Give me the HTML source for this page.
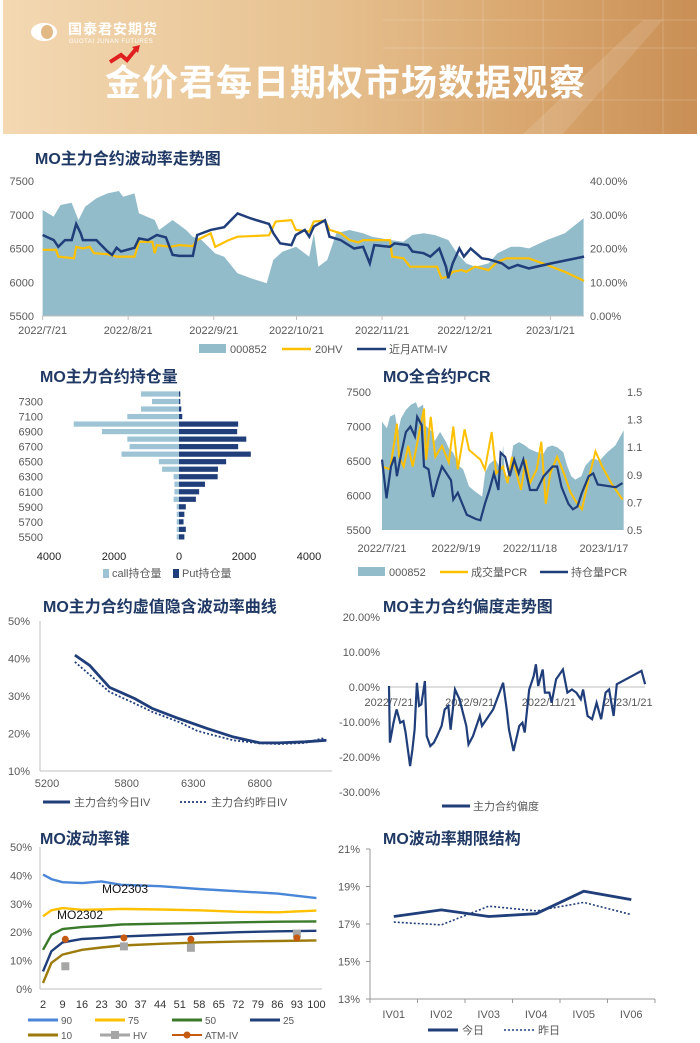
<!DOCTYPE html>
<html><head><meta charset="utf-8">
<style>
html,body{margin:0;padding:0;background:#fff;width:700px;height:1043px;overflow:hidden;font-family:"Liberation Sans","Noto Sans CJK SC",sans-serif;}
#banner{position:absolute;left:3px;top:0;width:694px;height:134px;background:linear-gradient(90deg,#f3d8b2 0%,#e7c291 45%,#d9a76f 75%,#c98f55 100%);overflow:hidden;}
#charts{position:absolute;left:0;top:0;}
</style></head>
<body>
<div id="banner">
  <svg width="694" height="134" style="position:absolute;left:0;top:0">
    <g stroke="#ffffff" stroke-opacity="0.18" stroke-width="1">
      <line x1="420" y1="0" x2="420" y2="134"/><line x1="480" y1="0" x2="480" y2="134"/><line x1="540" y1="0" x2="540" y2="134"/><line x1="600" y1="0" x2="600" y2="134"/><line x1="660" y1="0" x2="660" y2="134"/>
      <line x1="380" y1="20" x2="694" y2="20"/><line x1="380" y1="48" x2="694" y2="48"/><line x1="380" y1="100" x2="694" y2="100"/>
    </g>
    <polygon points="520,134 640,20 660,20 560,134" fill="#ffffff" fill-opacity="0.12"/>
    <ellipse cx="41" cy="32" rx="13" ry="9" fill="#fff"/>
    <ellipse cx="44" cy="32" rx="6" ry="7" fill="#e2b985"/>
    <path d="M107 62 L118 55 L124 60 L133 49" stroke="#e02020" stroke-width="4" fill="none"/>
    <polygon points="129,47 137,45 135,53" fill="#e02020"/>
  </svg>
  <div style="position:absolute;left:65px;top:21px;color:#fff;font-size:14px;font-weight:bold;letter-spacing:1px;line-height:16px">国泰君安期货</div>
  <div style="position:absolute;left:66px;top:39px;color:#fff;font-size:6px;letter-spacing:0.5px;line-height:7px">GUOTAI JUNAN FUTURES</div>
  <div style="position:absolute;left:102px;top:58px;color:#fff;font-size:36px;font-weight:bold;letter-spacing:1px;font-family:'Noto Sans CJK SC',sans-serif;line-height:44px">金价君每日期权市场数据观察</div>
</div>
<svg id="charts" width="700" height="1043" xmlns="http://www.w3.org/2000/svg"></svg>
<script>
// ---------- Chart 1 data ----------
const c1Ticks=['7500','7000','6500','6000','5500'];
const c1TickVals=[7500,7000,6500,6000,5500];
const c1RTicks=['40.00%','30.00%','20.00%','10.00%','0.00%'];
const c1RVals=[40,30,20,10,0];
const c1DateLabels=['2022/7/21','2022/8/21','2022/9/21','2022/10/21','2022/11/21','2022/12/21','2023/1/21'];
const c1DateDays=[0,31,62,92,123,153,184];
const idxDays=[0,4,6.5,10.5,13,15.4,19.5,23.5,27.6,29.2,33.3,34.9,40.6,42.2,47.1,52,54.4,57.6,62.5,65.8,70.6,75.5,81.2,83.6,86.9,91.8,96.6,98.3,99.9,103.1,106.4,111.2,116.1,119.4,122.6,125.9,130.7,134,138,142.1,147,150.2,153.5,156.7,161.6,164.8,169.7,173,176.2,182.7,189.2,196];
const idxVals=[7070,6972,7144,7179,6922,7120,7243,7317,7352,7268,7317,7021,6922,6774,6922,6774,6675,6626,6428,6379,6132,6058,5984,6330,6453,6527,6379,6725,6231,6330,6725,6774,6725,6675,6651,6626,6601,6700,6725,6700,6626,6428,6280,6231,6280,6428,6527,6527,6502,6626,6725,6947];
const hvX=[95,125,130,165,170,185,200,210,240,260,300,310,340,345,350,380,400,430,440,470,480,510,530,600,615,650,660,690,700,725,735,760,780,800,810,870,875,900,915,975,985,1000,1010,1030,1040,1060,1090,1110,1130,1180,1220,1260,1303];
const hvVals=[19.6,19.6,17.6,17.1,20.5,20.0,20.5,18.6,18.3,17.6,17.6,22.0,22.0,18.6,21.0,20.5,21.0,20.7,22.5,24.5,20.5,22.5,23.5,23.9,28.0,28.4,25.5,25.0,28.0,28.3,25.5,24.5,22.5,21.8,22.5,22.5,17.6,17.1,14.6,14.6,11.2,11.7,13.1,13.6,13.1,14.6,13.6,16.1,17.1,17.1,15.1,13.1,10.4];
const ivX=[95,120,130,145,160,170,180,185,215,240,250,260,270,300,310,330,350,370,385,400,430,440,470,500,515,530,560,600,610,625,650,660,680,690,700,725,735,760,790,810,825,835,870,880,910,920,945,960,980,995,1000,1010,1025,1035,1050,1075,1090,1120,1135,1155,1180,1230,1303];
const ivVals=[24.0,22.5,20.5,22.5,22.5,27.3,24.5,22.5,22.5,19.1,18.1,20.2,19.1,20.2,23.0,22.5,24.0,23.3,18.1,17.8,17.8,24.0,25.5,26.3,28.4,30.4,28.9,27.3,24.5,21.5,21.0,24.0,25.5,23.5,26.5,28.4,23.5,22.5,20.0,20.5,15.6,21.0,20.5,21.5,21.0,19.1,18.6,17.6,20.0,14.6,11.2,15.6,20.0,17.6,20.0,17.1,16.8,15.6,14.1,15.1,14.1,15.6,17.6];
// ---------- Chart 2 data ----------
const strikes=[7400,7300,7200,7100,7000,6900,6800,6700,6600,6500,6400,6300,6200,6100,6000,5900,5800,5700,5600,5500];
const callOI=[1170,830,1170,1590,3240,2370,1590,1520,1770,620,520,165,140,140,165,70,70,70,70,70];
const putOI=[40,40,70,100,1820,1790,2070,1820,2210,1450,1200,1190,800,620,520,210,165,140,210,165];
const c2StrikeLabels=['7300','7100','6900','6700','6500','6300','6100','5900','5700','5500'];
const c2XVals=[-4000,-2000,0,2000,4000];
const c2XLabels=['4000','2000','0','2000','4000'];
// ---------- Chart 3 data ----------
const c3LTicks=['7500','7000','6500','6000','5500'];
const c3RTicks=['1.5','1.3','1.1','0.9','0.7','0.5'];
const c3RVals=[1.5,1.3,1.1,0.9,0.7,0.5];
const c3DateLabels=['2022/7/21','2022/9/19','2022/11/18','2023/1/17'];
const c3DateDays=[0,60,120,180];
const oiPcrX=[852,862,872,880,885,895,905,915,925,930,940,945,955,965,975,985,995,1005,1010,1020,1030,1040,1060,1070,1080,1090,1100,1110,1115,1125,1135,1145,1155,1165,1180,1195,1210,1230,1240,1250,1265,1275,1285,1295,1310,1320,1330,1370,1385];
const oiPcr=[1.01,0.73,0.96,1.03,0.89,1.06,1.21,1.25,1.18,1.32,1.26,0.96,0.94,0.74,0.86,0.96,0.91,0.86,0.72,0.77,0.69,0.61,0.58,0.57,0.69,0.79,0.91,0.79,1.06,1.03,0.89,1.01,0.91,1.01,0.79,0.79,0.89,0.96,0.96,0.81,0.69,0.65,0.67,0.77,0.89,0.91,0.83,0.81,0.84];
const volPcrX=[852,870,880,885,890,900,910,920,930,945,950,960,970,985,1000,1010,1020,1035,1045,1070,1080,1095,1105,1120,1130,1140,1160,1170,1180,1195,1205,1215,1225,1240,1255,1270,1285,1295,1310,1325,1340,1360,1385];
const volPcr=[0.96,0.94,1.15,1.27,1.03,0.96,1.11,0.96,1.13,1.38,1.01,1.32,1.03,1.11,0.99,1.25,0.94,1.23,1.08,1.01,0.94,1.21,0.91,0.96,0.84,1.03,0.79,1.01,0.84,0.94,1.14,0.69,0.91,1.03,0.91,0.77,0.69,0.65,0.87,1.07,0.96,0.84,0.72];
// ---------- Chart 4 data ----------
const ivStrikeToday=[5410,5520,5670,5860,5990,6190,6400,6600,6800,6940,7140,7300];
const ivToday=[40.9,38.2,32.3,29.3,26.7,24.0,21.4,19.1,17.5,17.5,17.8,18.2];
const ivStrikeYest=[5410,5670,5860,5990,6190,6330,6600,6800,6940,7140,7270,7300];
const ivYest=[39.1,31.1,28.0,25.8,23.1,20.7,18.2,17.4,17.2,17.5,18.7,18.1];
const c4YLabels=['50%','40%','30%','20%','10%'];
const c4YVals=[50,40,30,20,10];
const c4XLabels=['5200','5800','6300','6800'];
const c4XVals=[5200,5800,6300,6800];
// ---------- Chart 5 data ----------
const skewX=[868,870,878,885,893,900,905,915,920,925,930,935,940,948,952,960,968,975,985,992,1000,1005,1015,1025,1040,1045,1055,1070,1075,1100,1122,1130,1135,1145,1158,1165,1170,1180,1190,1195,1200,1210,1215,1225,1230,1240,1255,1265,1275,1285,1295,1300,1310,1320,1330,1340,1350,1358,1368,1375,1430,1438];
const skewVals=[0.3,-15.9,-10.2,-6.4,-10.2,-9.7,-13.0,-22.6,-17.9,-12.2,1.2,-5.4,-5.0,1.7,-14.0,-16.9,-15.9,-14.0,-11.1,-6.4,-5.4,-12.2,-0.7,-3.5,-11.1,-16.4,-14.0,-8.3,-11.1,-6.4,1.2,-6.4,-12.2,-18.3,-11.1,-10.2,-13.0,-0.7,3.1,6.5,0.3,5.0,-1.6,-1.6,-4.5,2.2,5.0,-1.6,-0.7,-1.6,-3.5,-0.7,-8.3,-9.2,-4.5,-9.2,-1.6,-0.7,-8.3,0.8,4.6,0.8];
const c5YLabels=['20.00%','10.00%','0.00%','-10.00%','-20.00%','-30.00%'];
const c5YVals=[20,10,0,-10,-20,-30];
const c5DateLabels=['2022/7/21','2022/9/21','2022/11/21','2023/1/21'];
const c5DateDays=[0,62,123,184];
// ---------- Chart 6 data ----------
const coneDays=[2,5,9,16,23,30,44,58,72,86,100];
const cone90=[40.3,38.7,37.6,37.3,37.9,36.7,36.2,35.2,34.4,33.6,32.0];
const cone75=[25.6,27.7,28.5,27.9,28.0,28.2,28.0,27.7,27.2,27.0,27.6];
const cone50=[13.8,19.1,21.1,21.8,22.2,22.7,23.0,23.2,23.5,23.7,23.8];
const cone25=[6.2,13.3,16.4,17.6,18.0,18.5,19.0,19.5,20.0,20.3,20.5];
const cone10=[2.1,9.2,12.1,13.8,14.6,15.3,15.9,16.4,16.7,16.9,17.1];
const hvPtDays=[10,31,55,93];
const hvPts=[8.0,15.0,14.5,19.5];
const atmPtDays=[10,31,55,93];
const atmPts=[17.5,18.0,17.5,18.0];
const c6YLabels=['50%','40%','30%','20%','10%','0%'];
const c6YVals=[50,40,30,20,10,0];
const c6XLabels=['2','9','16','23','30','37','44','51','58','65','72','79','86','93','100'];
const c6XVals=[2,9,16,23,30,37,44,51,58,65,72,79,86,93,100];
// ---------- Chart 7 data ----------
const termCats=['IV01','IV02','IV03','IV04','IV05','IV06'];
const termToday=[17.4,17.75,17.4,17.55,18.75,18.3];
const termYest=[17.1,16.95,17.95,17.7,18.15,17.5];
const c7YLabels=['21%','19%','17%','15%','13%'];
const c7YVals=[21,19,17,15,13];

const NS='http://www.w3.org/2000/svg';
const svg=document.getElementById('charts');
const NAVY='#203e7a', YEL='#ffc000', AREA='#93bccb', GREY='#595959';
function mk(tag,attrs,parent){const e=document.createElementNS(NS,tag);for(const k in attrs)e.setAttribute(k,attrs[k]);(parent||svg).appendChild(e);return e;}
function text(x,y,s,size,anchor,color,weight){const t=mk('text',{x:x,y:y,'font-size':size,'text-anchor':anchor||'start',fill:color||GREY,'font-weight':weight||'normal','font-family':'"Liberation Sans","Noto Sans CJK SC",sans-serif'});t.textContent=s;return t;}
function pathD(xs,ys){return xs.map((x,i)=>(i?'L':'M')+x.toFixed(1)+' '+ys[i].toFixed(1)).join(' ');}
function title(x,y,s,name){const t=text(x,y,s,16,'start','#1f3864','bold');}

// ===== Chart 1 =====
title(35,164,'MO主力合约波动率走势图','vol-trend-title');
const x1=d=>42.6+d*2.76, yL1=v=>181+(7500-v)/2000*135, yR1=p=>316-p/40*135;
const zx2d1=z=>(z-95)*0.1624;
{
 const xs=idxDays.map(x1), ys=idxVals.map(yL1);
 const a=mk('path',{d:'M'+xs[0]+' 316 '+pathD(xs,ys).replace('M','L')+' L'+xs[xs.length-1]+' 316 Z',fill:AREA});
 
 const hv=mk('path',{d:pathD(hvX.map(z=>x1(zx2d1(z))),hvVals.map(yR1)),fill:'none',stroke:YEL,'stroke-width':2.2});
 
 const iv=mk('path',{d:pathD(ivX.map(z=>x1(zx2d1(z))),ivVals.map(yR1)),fill:'none',stroke:NAVY,'stroke-width':2.5});
 
 const ax=mk('line',{x1:42,y1:316,x2:584,y2:316,stroke:'#bfbfbf'});
 c1TickVals.forEach((v,i)=>{const t=text(34,yL1(v)+4,c1Ticks[i],11,'end');});
 c1RVals.forEach((v,i)=>{const t=text(590,yR1(v)+4,c1RTicks[i],11,'start');});
 c1DateDays.forEach((d,i)=>{mk('line',{x1:x1(d),y1:316,x2:x1(d),y2:320,stroke:'#bfbfbf'});const t=text(x1(d),334,c1DateLabels[i],11,'middle');});
 const lg=mk('g',{});
 mk('rect',{x:199,y:344,width:27,height:9,fill:AREA},lg);text(230,353,'000852',11,'start',GREY);
 mk('line',{x1:282,y1:349,x2:311,y2:349,stroke:YEL,'stroke-width':2.5},lg);text(315,353,'20HV',11,'start',GREY);
 mk('line',{x1:357,y1:349,x2:386,y2:349,stroke:NAVY,'stroke-width':2.5},lg);text(389,353,'近月ATM-IV',11,'start',GREY);
}
// ===== Chart 2 =====
title(40,382,'MO主力合约持仓量','open-interest-title');
{
 const x0=179,k=130/4000,yr=i=>394+i*7.52;
 strikes.forEach((s,i)=>{
  const c=mk('rect',{x:x0-callOI[i]*k,y:yr(i)-2.6,width:callOI[i]*k,height:5.2,fill:'#9dc3d5'});
  
  const p=mk('rect',{x:x0,y:yr(i)-2.6,width:putOI[i]*k,height:5.2,fill:NAVY});
  
 });
 c2StrikeLabels.forEach(l=>{const i=strikes.indexOf(+l);const t=text(43,yr(i)+4,l,11,'end');});
 c2XVals.forEach((v,i)=>{const t=text(x0+v*k,560,c2XLabels[i],11,'middle','#222');});
 mk('rect',{x:103,y:569,width:6,height:9,fill:'#9dc3d5'});text(112,577,'call持仓量',11,'start',GREY);
 mk('rect',{x:173,y:569,width:6,height:9,fill:NAVY});text(182,577,'Put持仓量',11,'start',GREY);
}
// ===== Chart 3 =====
title(383,382,'MO全合约PCR','pcr-title');
{
 const x3=d=>382+d*1.233, yL3=v=>392+(7500-v)/2000*138, yR3=p=>392+(1.5-p)*138, zd=z=>(z-852)*0.366;
 const xs=idxDays.map(x3), ys=idxVals.map(yL3);
 const a=mk('path',{d:'M'+xs[0]+' 530 '+pathD(xs,ys).replace('M','L')+' L'+xs[xs.length-1]+' 530 Z',fill:AREA});
 
 const v=mk('path',{d:pathD(volPcrX.map(z=>x3(zd(z))),volPcr.map(yR3)),fill:'none',stroke:YEL,'stroke-width':2});
 
 const o=mk('path',{d:pathD(oiPcrX.map(z=>x3(zd(z))),oiPcr.map(yR3)),fill:'none',stroke:NAVY,'stroke-width':2.2});
 
 c1TickVals.forEach((vv,i)=>{const t=text(371,yL3(vv)+4,c3LTicks[i],11,'end');});
 c3RVals.forEach((vv,i)=>{const t=text(627,yR3(vv)+4,c3RTicks[i],11,'start');});
 c3DateDays.forEach((d,i)=>{const t=text(x3(d),552,c3DateLabels[i],11,'middle');});
 mk('rect',{x:358,y:567,width:27,height:9,fill:AREA});text(389,576,'000852',11,'start',GREY);
 mk('line',{x1:440,y1:572,x2:468,y2:572,stroke:YEL,'stroke-width':2.5});text(471,576,'成交量PCR',11,'start',GREY);
 mk('line',{x1:540,y1:572,x2:568,y2:572,stroke:NAVY,'stroke-width':2.5});text(571,576,'持仓量PCR',11,'start',GREY);
}
// ===== Chart 4 =====
title(43,612,'MO主力合约虚值隐含波动率曲线','iv-smile-title');
{
 const x4=s=>47+(s-5200)*0.133, y4=p=>621+(50-p)/40*150;
 mk('line',{x1:40,y1:621,x2:40,y2:771,stroke:'#bfbfbf'});
 mk('line',{x1:40,y1:771,x2:332,y2:771,stroke:'#bfbfbf'});
 c4YVals.forEach((v,i)=>{const t=text(30,y4(v)+4,c4YLabels[i],11,'end');});
 c4XVals.forEach((v,i)=>{const t=text(x4(v),787,c4XLabels[i],11,'middle');});
 const y=mk('path',{d:pathD(ivStrikeYest.map(x4),ivYest.map(y4)),fill:'none',stroke:NAVY,'stroke-width':1.8,'stroke-dasharray':'2 2'});
 
 const t=mk('path',{d:pathD(ivStrikeToday.map(x4),ivToday.map(y4)),fill:'none',stroke:NAVY,'stroke-width':2.8});
 
 mk('line',{x1:43,y1:802,x2:70,y2:802,stroke:NAVY,'stroke-width':3});text(74,806,'主力合约今日IV',11,'start',GREY);
 mk('line',{x1:180,y1:802,x2:207,y2:802,stroke:NAVY,'stroke-width':1.8,'stroke-dasharray':'2 2'});text(211,806,'主力合约昨日IV',11,'start',GREY);
}
// ===== Chart 5 =====
title(383,612,'MO主力合约偏度走势图','skew-title');
{
 const x5=d=>389+d*1.3, y5=p=>687-p*3.5, zd=z=>(z-868)*0.3456;
 mk('line',{x1:389,y1:687,x2:645,y2:687,stroke:'#bfbfbf'});
 c5YVals.forEach((v,i)=>{const t=text(380,y5(v)+4,c5YLabels[i],11,'end');});
 c5DateDays.forEach((d,i)=>{const t=text(x5(d),706,c5DateLabels[i],11,'middle');});
 const s=mk('path',{d:pathD(skewX.map(z=>x5(zd(z))),skewVals.map(y5)),fill:'none',stroke:NAVY,'stroke-width':2.2});
 
 mk('line',{x1:442,y1:806,x2:470,y2:806,stroke:NAVY,'stroke-width':3});text(473,810,'主力合约偏度',11,'start',GREY);
}
// ===== Chart 6 =====
title(40,844,'MO波动率锥','vol-cone-title');
{
 const x6=d=>43+(d-2)*2.79, y6=p=>989-p*2.84;
 mk('line',{x1:40,y1:847,x2:40,y2:989,stroke:'#bfbfbf'});
 mk('line',{x1:40,y1:989,x2:322,y2:989,stroke:'#bfbfbf'});
 c6YVals.forEach((v,i)=>{const t=text(32,y6(v)+4,c6YLabels[i],11,'end');});
 c6XVals.forEach((v,i)=>{const t=text(x6(v),1008,c6XLabels[i],11,'middle','#333');});
 const series=[[cone90,'#4a86d8','cone-90'],[cone75,YEL,'cone-75'],[cone50,'#3a7a2a','cone-50'],[cone25,NAVY,'cone-25'],[cone10,'#9c7a0c','cone-10']];
 series.forEach(s=>{const p=mk('path',{d:pathD(coneDays.map(x6),s[0].map(y6)),fill:'none',stroke:s[1],'stroke-width':2.4});});
 hvPtDays.forEach((d,i)=>{const r=mk('rect',{x:x6(d)-4,y:y6(hvPts[i])-4,width:8,height:8,fill:'#a6a6a6'});});
 atmPtDays.forEach((d,i)=>{const c=mk('circle',{cx:x6(d),cy:y6(atmPts[i]),r:3.5,fill:'#c55a11'});});
 text(102,893,'MO2303',12,'start','#111');
 text(57,919,'MO2302',12,'start','#111');
 const lg=[[28,1020,'#4a86d8','90'],[95,1020,YEL,'75'],[172,1020,'#3a7a2a','50'],[250,1020,NAVY,'25'],[28,1035,'#9c7a0c','10']];
 lg.forEach(l=>{mk('line',{x1:l[0],y1:l[1],x2:l[0]+30,y2:l[1],stroke:l[2],'stroke-width':3});text(l[0]+33,l[1]+4,l[3],10,'start',GREY);});
 mk('line',{x1:100,y1:1035,x2:130,y2:1035,stroke:'#a6a6a6','stroke-width':3});mk('rect',{x:111,y:1031,width:8,height:8,fill:'#a6a6a6'});text(133,1039,'HV',10,'start',GREY);
 mk('line',{x1:172,y1:1035,x2:202,y2:1035,stroke:'#c55a11','stroke-width':2});mk('circle',{cx:187,cy:1035,r:3.5,fill:'#c55a11'});text(205,1039,'ATM-IV',10,'start',GREY);
}
// ===== Chart 7 =====
title(383,844,'MO波动率期限结构','term-structure-title');
{
 const x7=i=>370+(i+0.5)*47.5, y7=p=>999-(p-13)/8*150;
 mk('line',{x1:370,y1:849,x2:370,y2:999,stroke:'#999'});
 mk('line',{x1:370,y1:999,x2:655,y2:999,stroke:'#999'});
 for(let i=0;i<=termCats.length;i++)mk('line',{x1:370+i*47.5,y1:999,x2:370+i*47.5,y2:1003,stroke:'#999'});
 c7YVals.forEach((v,i)=>{mk('line',{x1:366,y1:y7(v),x2:370,y2:y7(v),stroke:'#999'});const t=text(360,y7(v)+4,c7YLabels[i],11,'end');});
 termCats.forEach((c,i)=>{const t=text(x7(i),1018,c,11,'middle');});
 const ye=mk('path',{d:pathD(termCats.map((c,i)=>x7(i)),termYest.map(y7)),fill:'none',stroke:NAVY,'stroke-width':1.6,'stroke-dasharray':'2 2'});
 
 const to=mk('path',{d:pathD(termCats.map((c,i)=>x7(i)),termToday.map(y7)),fill:'none',stroke:NAVY,'stroke-width':2.8});
 
 mk('line',{x1:428,y1:1030,x2:458,y2:1030,stroke:NAVY,'stroke-width':3});text(462,1034,'今日',11,'start',GREY);
 mk('line',{x1:504,y1:1030,x2:534,y2:1030,stroke:NAVY,'stroke-width':1.6,'stroke-dasharray':'2 2'});text(538,1034,'昨日',11,'start',GREY);
}
</script>
</body></html>
